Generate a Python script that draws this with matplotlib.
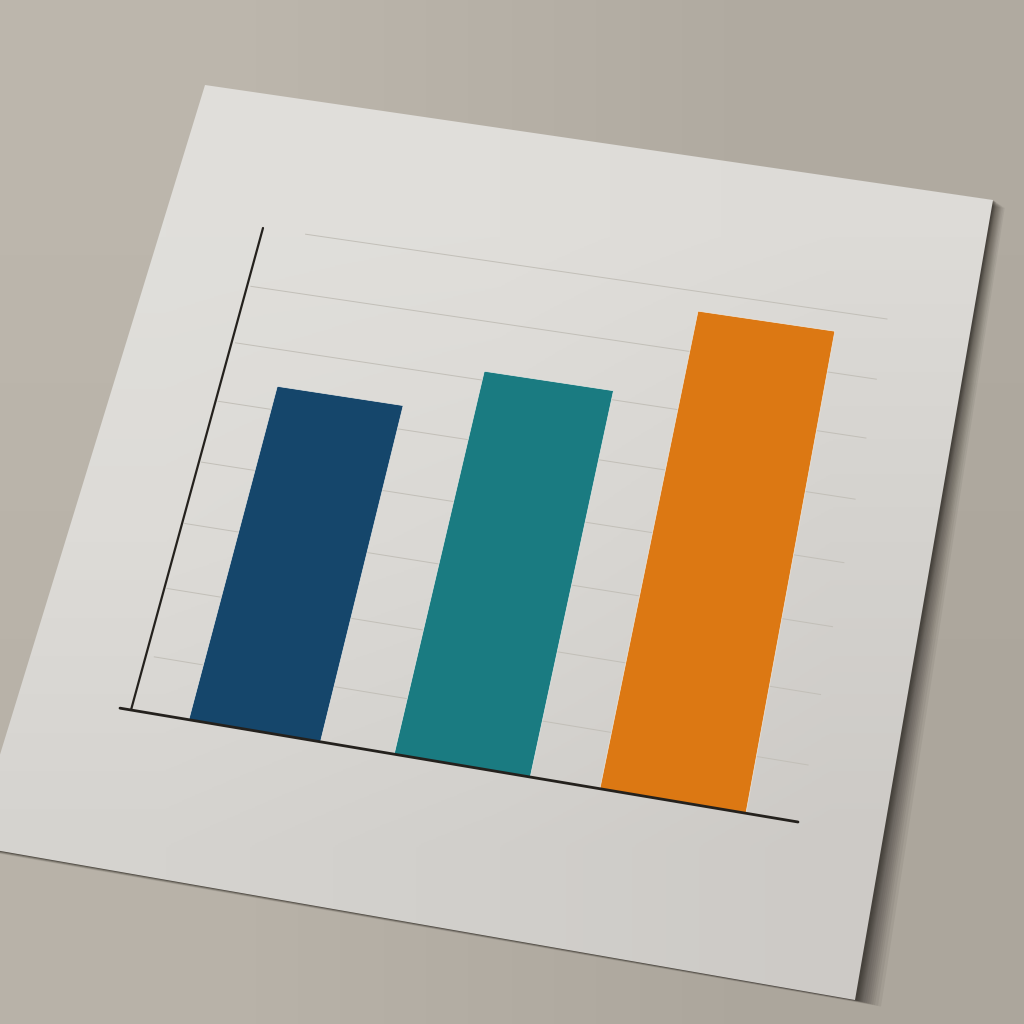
import numpy as np
import matplotlib
matplotlib.use("Agg")
import matplotlib.pyplot as plt
from matplotlib.patches import Polygon
from matplotlib.transforms import Transform

# bar chart values, read against the 8 grid steps
bar_positions = [0.1895, 0.5035, 0.8165]
bar_width = [0.201, 0.204, 0.215]
bar_values = [5.39, 6.15, 7.67]
bar_colors = ["#15466B", "#1A7B81", "#DC7813"]
grid_levels = [0.85, 1.92, 2.97, 3.98, 5, 6, 6.98, 8]
grid_starts = [0.013, 0.004, 0.004, 0.004, 0.004, 0.006, 0.006, 0.07]

# where the chart plane sits in the photo (pixels)
plane_corners = [(131, 710), (798, 822), (887, 319), (263, 228)]
paper_corners = [(205, 85), (993, 200), (855, 1000), (-28, 846)]
shadow_spread = [(0.6, 0.6), (0.45, 0.3), (1, 0.25), (0.6, 0.22)]


class PlaneTransform(Transform):
    input_dims = 2
    output_dims = 2
    is_affine = False

    def __init__(self, src, dst):
        super().__init__()
        a, b = [], []
        for (x, y), (u, v) in zip(src, dst):
            a.append([x, y, 1, 0, 0, 0, -u * x, -u * y])
            a.append([0, 0, 0, x, y, 1, -v * x, -v * y])
            b += [u, v]
        self.h = np.append(np.linalg.solve(np.array(a, float), np.array(b, float)), 1).reshape(3, 3)

    def transform_non_affine(self, values):
        pts = np.column_stack([values, np.ones(len(values))]) @ self.h.T
        return pts[:, :2] / pts[:, 2:]


fig = plt.figure(figsize=(10.24, 10.24), dpi=100)
ax = fig.add_axes([0, 0, 1, 1])
ax.set_xlim(0, 1024)
ax.set_ylim(1024, 0)
ax.set_autoscale_on(False)
ax.axis("off")

# table surface
table = np.array([[[188, 182, 172], [176, 170, 160]],
                  [[184, 178, 168], [172, 166, 156]]], dtype=np.uint8)
ax.imshow(table, extent=(0, 1024, 1024, 0), interpolation="bilinear", aspect="auto", zorder=0)

# soft shadow below the sheet
paper = np.array(paper_corners, float)
spread = np.array(shadow_spread, float)
for off in [26, 23, 20, 18, 16, 14, 12, 10, 8, 7, 6, 5, 4, 3, 2]:
    ax.add_patch(Polygon(paper + off * spread, color="#1E1A14", alpha=0.055 + 0.5 / (off + 4) ** 1.3,
                         lw=0, zorder=1))

# sheet of paper
sheet = np.array([[[224, 223, 219], [224, 222, 218], [221, 219, 215]],
                  [[221, 219, 215], [218, 216, 212], [212, 210, 206]],
                  [[213, 211, 207], [209, 207, 203], [205, 202, 198]]], dtype=np.uint8)
im = ax.imshow(sheet, extent=(0, 1000, 1000, 85), interpolation="bilinear", aspect="auto", zorder=2)
im.set_clip_path(Polygon(paper, transform=ax.transData))
ax.set_xlim(0, 1024)
ax.set_ylim(1024, 0)

plane = PlaneTransform([(0, 0), (1, 0), (1, 8), (0, 8)], plane_corners)
tr = plane + ax.transData

for level, start in zip(grid_levels, grid_starts):
    ax.plot([start, 1], [level, level], transform=tr, color="#C2BFB8", lw=0.7, zorder=3)

ax.bar(bar_positions, bar_values, width=bar_width, color=bar_colors, edgecolor="#EAE8E4",
       linewidth=0.5, transform=tr, zorder=4)

ax.plot([0, 0], [0, 8], transform=tr, color="#24211D", lw=1.6, solid_capstyle="round", zorder=5)
ax.plot([-0.017, 1], [0, 0], transform=tr, color="#24211D", lw=2.0, solid_capstyle="round", zorder=5)

fig.savefig("out.png", dpi=100)
